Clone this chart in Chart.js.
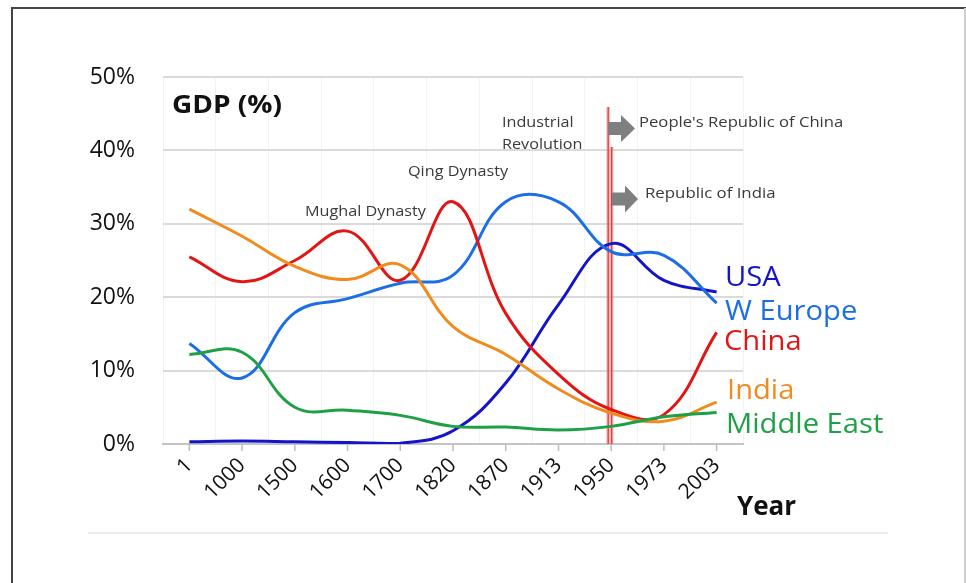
<!DOCTYPE html>
<html>
<head>
<meta charset="utf-8">
<script src="https://cdn.jsdelivr.net/npm/chart.js@4.4.1/dist/chart.umd.min.js"></script>
<style>
  html, body { margin: 0; padding: 0; background: #fff; }
  #wrap { position: relative; width: 966px; height: 583px; }
</style>
</head>
<body>
<div id="wrap"><canvas id="gdpChart" width="966" height="583"></canvas></div>
<script>
// Categorias (anos) e séries
const years = ['1', '1000', '1500', '1600', '1700', '1820', '1870', '1913', '1950', '1973', '2003'];
const usa = [0.3, 0.4, 0.3, 0.2, 0.1, 1.8, 8.3, 19.0, 27.3, 22.3, 20.7];
const wEurope = [13.7, 9.0, 17.9, 19.8, 21.9, 23.0, 33.0, 33.0, 26.2, 25.7, 19.2];
const china = [25.5, 22.1, 25.0, 29.0, 22.3, 33.0, 17.8, 9.5, 4.7, 4.0, 15.2];
const india = [32.0, 28.3, 24.2, 22.4, 24.4, 16.0, 12.2, 7.5, 4.2, 3.1, 5.7];
const middleEast = [12.2, 12.5, 5.0, 4.6, 3.9, 2.4, 2.3, 1.9, 2.4, 3.7, 4.3];
const yMax = 50;
const yStep = 10;

// Cores
const colors = {
    usa: '#1414c8',
    wEurope: '#1c6ee6',
    china: '#e31414',
    india: '#f08c1e',
    middleEast: '#1ea046'
};

// Texto com leve escala horizontal (imagem original esticada)
function drawText(ctx, s, x, y, font, color, sx) {
    ctx.save();
    ctx.translate(x, y);
    ctx.scale(sx || 1, 1);
    ctx.font = font;
    ctx.fillStyle = color;
    ctx.textBaseline = 'alphabetic';
    ctx.textAlign = 'left';
    ctx.fillText(s, 0, 0);
    ctx.restore();
}

function drawArrow(ctx, x0, xb, xt, cy, hs, hh) {
    ctx.beginPath();
    ctx.moveTo(x0, cy - hs);
    ctx.lineTo(xb, cy - hs);
    ctx.lineTo(xb, cy - hh);
    ctx.lineTo(xt, cy);
    ctx.lineTo(xb, cy + hh);
    ctx.lineTo(xb, cy + hs);
    ctx.lineTo(x0, cy + hs);
    ctx.closePath();
    ctx.fillStyle = '#7f7f7f';
    ctx.fill();
}

function drawRedLine(ctx, x, top, bottom) {
    ctx.save();
    ctx.strokeStyle = 'rgba(240,140,140,0.6)';
    ctx.lineWidth = 3.5;
    ctx.beginPath(); ctx.moveTo(x, top); ctx.lineTo(x, bottom); ctx.stroke();
    ctx.strokeStyle = '#e03434';
    ctx.lineWidth = 1.2;
    ctx.beginPath(); ctx.moveTo(x, top); ctx.lineTo(x, bottom); ctx.stroke();
    ctx.restore();
}

const overlay = {
    id: 'overlay',
    beforeDatasetsDraw(chart) {
        const ctx = chart.ctx;
        const x = chart.scales.x;
        const y = chart.scales.y;
        const x1950 = x.getPixelForValue(years.indexOf('1950'));
        drawRedLine(ctx, x1950 - 3, 107, y.getPixelForValue(0));
        drawRedLine(ctx, x1950 + 0.5, 147, y.getPixelForValue(0));
    },
    afterDraw(chart) {
        const ctx = chart.ctx;
        const x = chart.scales.x;
        const y = chart.scales.y;
        ctx.save();

        // marcas do eixo x nas categorias
        ctx.strokeStyle = '#bdbdbd';
        ctx.lineWidth = 1.5;
        for (let i = 0; i < years.length; i++) {
            const px = x.getPixelForTick(i);
            ctx.beginPath();
            ctx.moveTo(px, y.bottom);
            ctx.lineTo(px, y.bottom + 7);
            ctx.stroke();
        }

        // títulos
        drawText(ctx, 'GDP (%)', 172, 113, 'bold 25px "Open Sans"', '#111', 1.12);
        drawText(ctx, 'Year', 737, 515, 'bold 26px "Open Sans"', '#111', 1.0);

        // anotações
        const small = '15px "Open Sans"';
        const grey = '#3a3a3a';
        drawText(ctx, 'Mughal Dynasty', 305, 216, small, grey, 1.08);
        drawText(ctx, 'Qing Dynasty', 408, 176, small, grey, 1.08);
        drawText(ctx, 'Industrial', 502, 127, small, grey, 1.08);
        drawText(ctx, 'Revolution', 502, 149, small, grey, 1.08);
        drawText(ctx, "People's Republic of China", 639, 127, small, grey, 1.11);
        drawText(ctx, 'Republic of India', 645, 198, small, grey, 1.12);

        drawArrow(ctx, 608, 621, 635, 128.5, 6.5, 13.5);
        drawArrow(ctx, 612, 625, 638, 199, 6.5, 13.5);

        // nomes das séries
        const big = '27px "Open Sans"';
        drawText(ctx, 'USA', 725, 286, big, colors.usa, 1.08);
        drawText(ctx, 'W Europe', 725, 320, big, colors.wEurope, 1.08);
        drawText(ctx, 'China', 724, 350, big, colors.china, 1.08);
        drawText(ctx, 'India', 727, 399, big, colors.india, 1.08);
        drawText(ctx, 'Middle East', 726, 433, big, colors.middleEast, 1.08);

        // linha clara inferior e moldura
        ctx.strokeStyle = '#ececec';
        ctx.lineWidth = 2;
        ctx.beginPath(); ctx.moveTo(88, 533); ctx.lineTo(888, 533); ctx.stroke();
        ctx.strokeStyle = '#444';
        ctx.lineWidth = 2;
        ctx.beginPath(); ctx.moveTo(12, 583); ctx.lineTo(12, 8); ctx.lineTo(966, 8); ctx.stroke();
        ctx.strokeStyle = '#cfcfcf';
        ctx.beginPath(); ctx.moveTo(965, 8); ctx.lineTo(965, 583); ctx.stroke();
        ctx.restore();
    }
};

function series(label, data, color) {
    return {
        label: label,
        data: data,
        borderColor: color,
        backgroundColor: color,
        borderWidth: 3,
        pointRadius: 0,
        tension: 0.4,
        fill: false
    };
}

new Chart(document.getElementById('gdpChart').getContext('2d'), {
    type: 'line',
    data: {
        labels: years,
        datasets: [
            series('Middle East', middleEast, colors.middleEast),
            series('India', india, colors.india),
            series('China', china, colors.china),
            series('W Europe', wEurope, colors.wEurope),
            series('USA', usa, colors.usa)
        ]
    },
    options: {
        responsive: false,
        animation: false,
        layout: { padding: { left: 0, right: 223, top: 77, bottom: 0 } },
        plugins: {
            legend: { display: false },
            tooltip: { enabled: false },
            title: { display: false }
        },
        scales: {
            x: {
                offset: true,
                grid: { offset: true, color: '#f3f3f3', lineWidth: 1, drawTicks: false },
                border: { color: '#c4c4c4', width: 2 },
                ticks: {
                    minRotation: 45,
                    maxRotation: 45,
                    autoSkip: false,
                    padding: 9,
                    color: '#111',
                    font: { family: 'Open Sans', size: 21 }
                },
                afterFit(scale) { scale.height = 139; }
            },
            y: {
                min: 0,
                max: yMax,
                grid: { color: '#dadada', lineWidth: 2, drawTicks: false },
                border: { display: false },
                ticks: {
                    stepSize: yStep,
                    padding: 28,
                    color: '#111',
                    font: { family: 'Open Sans', size: 23 },
                    callback: v => v + '%'
                },
                afterFit(scale) { scale.width = 163; }
            }
        }
    },
    plugins: [overlay]
});
</script>
</body>
</html>
